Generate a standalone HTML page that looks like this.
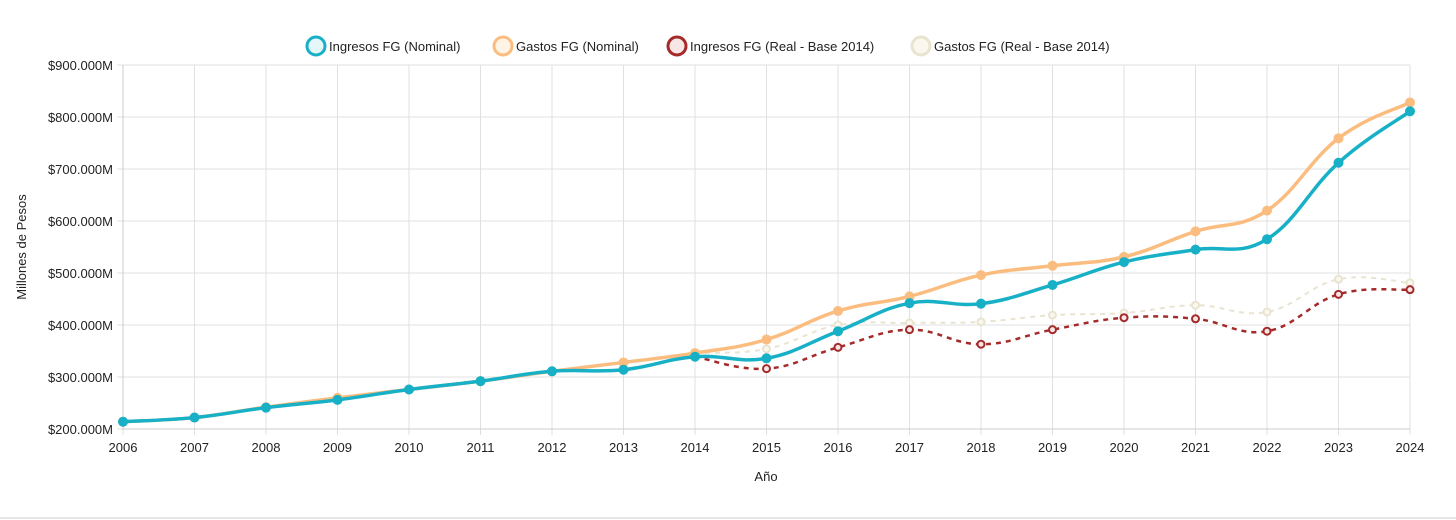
<!DOCTYPE html>
<html><head><meta charset="utf-8"><style>
body{margin:0;background:#fff;font-family:"Liberation Sans",sans-serif}
svg{display:block}
</style></head><body>
<svg id="c" width="1456" height="520" font-family="Liberation Sans, sans-serif"></svg>
<script>
const years=[2006,2007,2008,2009,2010,2011,2012,2013,2014,2015,2016,2017,2018,2019,2020,2021,2022,2023,2024];
const ingNom=[214,222,241,256,276,292,311,314,339,336,388,442,441,477,521,545,565,712,811];
const gasNom=[214,222,242,260,276,292,311,328,346,372,427,455,496,514,531,580,620,759,828];
const ingReal=[null,null,null,null,null,null,null,null,339,316,357,391,363,391,414,412,388,459,468];
const gasReal=[null,null,null,null,null,null,null,null,346,354,400,404,406,419,423,438,425,488,481];
const yTicks=[200,300,400,500,600,700,800,900];
const yLabels=["$200.000M","$300.000M","$400.000M","$500.000M","$600.000M","$700.000M","$800.000M","$900.000M"];
const L=123,R=1410,T=65,B=429;
const X=i=>L+i*(R-L)/(years.length-1);
const Y=v=>B-(v-200)/700*(B-T);
const svg=document.getElementById('c');const NS='http://www.w3.org/2000/svg';
function mk(t,a,p){const e=document.createElementNS(NS,t);for(const k in a)e.setAttribute(k,a[k]);(p||svg).appendChild(e);return e;}
yTicks.forEach((v,i)=>{const l=mk('line',{x1:L-6,x2:R,y1:Y(v),y2:Y(v),stroke:'#e0e0e0'});

const t=mk('text',{x:L-10,y:Y(v)+5,'text-anchor':'end','font-size':13,fill:'#222'});t.textContent=yLabels[i];
});
years.forEach((y,i)=>{const l=mk('line',{x1:X(i),x2:X(i),y1:T,y2:B+6,stroke:'#e0e0e0'});

const t=mk('text',{x:X(i),y:B+23,'text-anchor':'middle','font-size':13,fill:'#222'});t.textContent=y;
});
mk('line',{x1:L,x2:L,y1:T,y2:B,stroke:'#ccc'});mk('line',{x1:L,x2:R,y1:B,y2:B,stroke:'#ccc'});
mk('line',{x1:0,x2:1456,y1:518,y2:518,stroke:'#e6e6e6','stroke-width':2});
let t=mk('text',{x:766,y:481,'text-anchor':'middle','font-size':13,fill:'#222'});t.textContent='Año';

t=mk('text',{x:0,y:0,transform:'translate(26,247) rotate(-90)','text-anchor':'middle','font-size':13,fill:'#222'});t.textContent='Millones de Pesos';

function path(vals){const p=[];vals.forEach((v,i)=>{if(v!=null)p.push([X(i),Y(v)])});
let d='M'+p[0][0]+','+p[0][1];const k=0.2;
for(let i=0;i<p.length-1;i++){const p0=p[i-1]||p[i],p1=p[i],p2=p[i+1],p3=p[i+2]||p2;
const c1=[p1[0]+(p2[0]-p0[0])*k,p1[1]+(p2[1]-p0[1])*k],c2=[p2[0]-(p3[0]-p1[0])*k,p2[1]-(p3[1]-p1[1])*k];
d+=`C${c1},${c2},${p2}`;}return d;}
const series=[
{v:gasReal,c:'#e8e4d0',w:2,dash:'5,5',fill:'#faf8ee',r:3.5,name:'gastos-real'},
{v:ingReal,c:'#a52a2a',w:2.5,dash:'5,5',fill:'#f6e6e6',r:3.5,name:'ingresos-real'},
{v:gasNom,c:'#fbbd7f',w:3.5,dash:'',fill:'#fbbd7f',r:4,name:'gastos-nominal'},
{v:ingNom,c:'#17b0c6',w:3.5,dash:'',fill:'#17b0c6',r:4,name:'ingresos-nominal'}];
series.forEach(s=>{const p=mk('path',{d:path(s.v),fill:'none',stroke:s.c,'stroke-width':s.w,'stroke-dasharray':s.dash});

s.v.forEach((v,i)=>{if(v==null)return;const c=mk('circle',{cx:X(i),cy:Y(v),r:s.r,fill:s.fill,stroke:s.c,'stroke-width':2});
});});
const leg=[['Ingresos FG (Nominal)','#17b0c6','#e4f7f9',316],['Gastos FG (Nominal)','#fbbd7f','#fff3e6',503],['Ingresos FG (Real - Base 2014)','#a52a2a','#f6e6e6',677],['Gastos FG (Real - Base 2014)','#e8e4d0','#faf8ee',921]];
leg.forEach(l=>{const g=mk('g',{});
mk('circle',{cx:l[3],cy:46,r:9,fill:l[2],stroke:l[1],'stroke-width':3},g);
const t=mk('text',{x:l[3]+13,y:51,'font-size':13,fill:'#222'},g);t.textContent=l[0];});
</script>
</body></html>
